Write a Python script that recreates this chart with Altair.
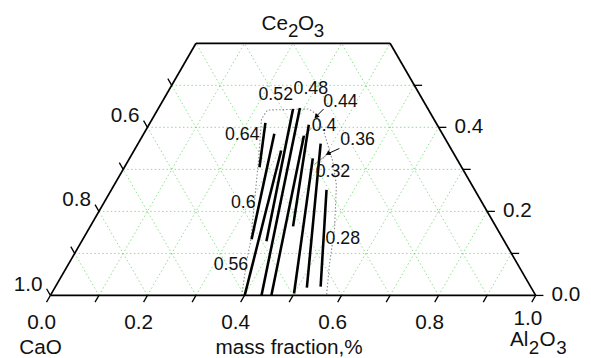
import math
import altair as alt
import pandas as pd

H = math.sqrt(3) / 2
W_PX = 492
H_PX = 256
Y_MAX = H_PX / W_PX
FONT = "Liberation Sans"

# ---------------- data (mass fractions: Al2O3, Ce2O3; CaO = 1 - both) ----------------
# one iso-line per level, from its upper end to its lower end
iso_levels = ["0.64", "0.6", "0.56", "0.52", "0.48", "0.44", "0.4", "0.36", "0.32", "0.28"]
iso_al_start = [0.2377, 0.2690, 0.3031, 0.2782, 0.2912, 0.3323, 0.3295, 0.3776, 0.3762, 0.4435]
iso_ce_start = [0.4107, 0.3849, 0.3450, 0.4436, 0.4459, 0.3802, 0.4060, 0.3262, 0.3614, 0.2511]
iso_al_end = [0.2783, 0.3477, 0.4004, 0.3806, 0.4350, 0.4553, 0.4179, 0.4997, 0.5191, 0.5463]
iso_ce_end = [0.3051, 0.1338, 0.0, 0.1291, 0.0, 0.0, 0.1643, 0.0047, 0.0188, 0.0211]

iso_label_al = [0.2046, 0.2877, 0.3356, 0.2256, 0.2908, 0.3670, 0.3628, 0.4483, 0.4350, 0.5351]
iso_label_ce = [0.3814, 0.2194, 0.0728, 0.4776, 0.4917, 0.4612, 0.4025, 0.3696, 0.2945, 0.1349]

region_al = [0.3943, 0.3634, 0.3481, 0.2681, 0.2250, 0.2266, 0.3107, 0.3276, 0.3670,
             0.4205, 0.4580, 0.5068, 0.5376, 0.5691]
region_ce = [0.0, 0.0821, 0.1291, 0.3215, 0.4201, 0.4412, 0.4436, 0.4342, 0.3919,
             0.3215, 0.2628, 0.1572, 0.0751, 0.0]

# arrows (tail -> tip) and thin leaders
arrow_al1 = [0.3412, 0.4207]
arrow_ce1 = [0.4436, 0.3497]
arrow_al2 = [0.3352, 0.4042]
arrow_ce2 = [0.4271, 0.3380]
arrow_angle = [225, 243]
leader_al1 = [0.4042, 0.3391]
leader_ce1 = [0.3380, 0.3990]
leader_al2 = [0.3886, 0.3309]
leader_ce2 = [0.3121, 0.3708]

CE_MAX = 0.6
grid_steps = [0.1, 0.2, 0.3, 0.4, 0.5, 0.6, 0.7, 0.8, 0.9]
bottom_ticks = [0.0, 0.1, 0.2, 0.3, 0.4, 0.5, 0.6, 0.7, 0.8, 0.9, 1.0]
bottom_labels = ["0.0", "0.2", "0.4", "0.6", "0.8"]
bottom_last_label = ["1.0"]
left_ticks = [0.5, 0.6, 0.7, 0.8, 0.9, 1.0]      # CaO
left_labels = ["0.6", "0.8", "1.0"]
right_ticks = [0.0, 0.1, 0.2, 0.3, 0.4, 0.5]     # Ce2O3
right_labels = ["0.0", "0.2", "0.4"]
TICK = 0.016

# ---------------- tables ----------------
def segs(al1, ce1, al2, ce2):
    return pd.DataFrame({"al1": al1, "ce1": ce1, "al2": al2, "ce2": ce2})

grid_rows = []
for k in grid_steps:
    if k < CE_MAX:
        grid_rows.append((0.0, k, 1 - k, k))
    cmax = min(1 - k, CE_MAX)
    grid_rows.append((k, 0.0, k, cmax))
    grid_rows.append((1 - k, 0.0, 1 - k - cmax, cmax))
grid_df = segs(*zip(*grid_rows))

frame_df = segs([0.0, 1.0, 1 - CE_MAX, 0.0], [0.0, 0.0, CE_MAX, CE_MAX],
                [1.0, 1 - CE_MAX, 0.0, 0.0], [0.0, CE_MAX, CE_MAX, 0.0])

tick_rows = []
for a in bottom_ticks:
    tick_rows.append((a, 0.0, a, -TICK))
for c in right_ticks:
    tick_rows.append((1 - c, c, 1 - c + TICK, c))
for ca in left_ticks:
    tick_rows.append((0.0, 1 - ca, -TICK, 1 - ca + TICK))
tick_df = segs(*zip(*tick_rows))

iso_df = segs(iso_al_start, iso_ce_start, iso_al_end, iso_ce_end)
arrow_df = segs(arrow_al1, arrow_ce1, arrow_al2, arrow_ce2)
leader_df = segs(leader_al1, leader_ce1, leader_al2, leader_ce2)
tip_df = pd.DataFrame({"al": arrow_al2, "ce": arrow_ce2, "ang": arrow_angle})
region_df = pd.DataFrame({"al": region_al, "ce": region_ce, "i": list(range(len(region_al)))})

xs = alt.Scale(domain=[0, 1], nice=False, zero=False)
ys = alt.Scale(domain=[0, Y_MAX], nice=False, zero=False)


def seg_layer(df, **kw):
    return alt.Chart(df).transform_calculate(
        x1="datum.al1 + datum.ce1 / 2", y1=f"datum.ce1 * {H}",
        x2="datum.al2 + datum.ce2 / 2", y2=f"datum.ce2 * {H}",
    ).mark_rule(**kw).encode(
        x=alt.X("x1:Q", scale=xs, axis=None),
        y=alt.Y("y1:Q", scale=ys, axis=None),
        x2="x2:Q", y2="y2:Q",
    )


def text_layer(texts, al, ce, **kw):
    df = pd.DataFrame({"t": texts, "al": al, "ce": ce})
    return alt.Chart(df).transform_calculate(
        x="datum.al + datum.ce / 2", y=f"datum.ce * {H}"
    ).mark_text(font=FONT, color="#111111", **kw).encode(
        x=alt.X("x:Q", scale=xs, axis=None),
        y=alt.Y("y:Q", scale=ys, axis=None),
        text="t:N",
    )


layers = [
    seg_layer(grid_df, color="#4ccf4c", strokeWidth=1, strokeDash=[1.5, 2.5], opacity=0.65),
    alt.Chart(region_df).transform_calculate(
        x="datum.al + datum.ce / 2", y=f"datum.ce * {H}"
    ).mark_line(color="#8a8a8a", strokeWidth=1.1, strokeDash=[1.5, 2]).encode(
        x=alt.X("x:Q", scale=xs, axis=None),
        y=alt.Y("y:Q", scale=ys, axis=None),
        order="i:Q",
    ),
    seg_layer(leader_df, color="#777777", strokeWidth=0.8),
    seg_layer(iso_df, color="black", strokeWidth=2.6),
    seg_layer(frame_df, color="black", strokeWidth=1.7),
    seg_layer(tick_df, color="black", strokeWidth=1.3),
    seg_layer(arrow_df, color="black", strokeWidth=1),
    alt.Chart(tip_df).transform_calculate(
        x="datum.al + datum.ce / 2", y=f"datum.ce * {H}"
    ).mark_point(shape="triangle", filled=True, color="black", size=30, opacity=1).encode(
        x=alt.X("x:Q", scale=xs, axis=None),
        y=alt.Y("y:Q", scale=ys, axis=None),
        angle=alt.Angle("ang:Q", scale=None),
    ),
    # tick labels
    text_layer(bottom_labels, [float(s) for s in bottom_labels], [0.0] * len(bottom_labels),
               fontSize=21, align="center", baseline="alphabetic", dx=-9, dy=34),
    text_layer(bottom_last_label, [1.0], [0.0],
               fontSize=21, align="center", baseline="alphabetic", dx=-8, dy=30),
    text_layer(left_labels, [0.0] * len(left_labels), [1 - float(s) for s in left_labels],
               fontSize=21, align="right", baseline="alphabetic", dx=-8, dy=-5),
    text_layer(right_labels, [1 - float(s) for s in right_labels], [float(s) for s in right_labels],
               fontSize=21, align="left", baseline="middle", dx=16, dy=0),
    # iso-line labels
    text_layer(iso_levels, iso_label_al, iso_label_ce, fontSize=18, align="center", baseline="middle"),
    # corner / axis titles
    text_layer(["CaO"], [0.0], [0.0], fontSize=21, align="center", baseline="alphabetic", dx=-10, dy=59),
    text_layer(["mass fraction,%"], [0.5], [0.0], fontSize=21, align="center", baseline="alphabetic", dx=-4, dy=59),
    # Ce2O3 (top)
    text_layer(["Ce"], [0.2], [CE_MAX], fontSize=21, align="left", baseline="alphabetic", dx=-32, dy=-13),
    text_layer(["2"], [0.2], [CE_MAX], fontSize=19, align="left", baseline="alphabetic", dx=-5, dy=-6),
    text_layer(["O"], [0.2], [CE_MAX], fontSize=21, align="left", baseline="alphabetic", dx=5, dy=-13),
    text_layer(["3"], [0.2], [CE_MAX], fontSize=19, align="left", baseline="alphabetic", dx=21, dy=-6),
    # Al2O3 (bottom right)
    text_layer(["Al"], [1.0], [0.0], fontSize=21, align="left", baseline="alphabetic", dx=-26, dy=51),
    text_layer(["2"], [1.0], [0.0], fontSize=19, align="left", baseline="alphabetic", dx=-7, dy=59),
    text_layer(["O"], [1.0], [0.0], fontSize=21, align="left", baseline="alphabetic", dx=4, dy=51),
    text_layer(["3"], [1.0], [0.0], fontSize=19, align="left", baseline="alphabetic", dx=21, dy=59),
]

chart = alt.layer(*layers).properties(
    width=W_PX,
    height=H_PX,
    padding={"left": 43, "top": 33, "right": 48, "bottom": 61},
    autosize=alt.AutoSizeParams(type="none"),
    background="white",
).configure_view(stroke=None)

chart.save("out.html", embed_options={"renderer": "svg", "actions": False})
